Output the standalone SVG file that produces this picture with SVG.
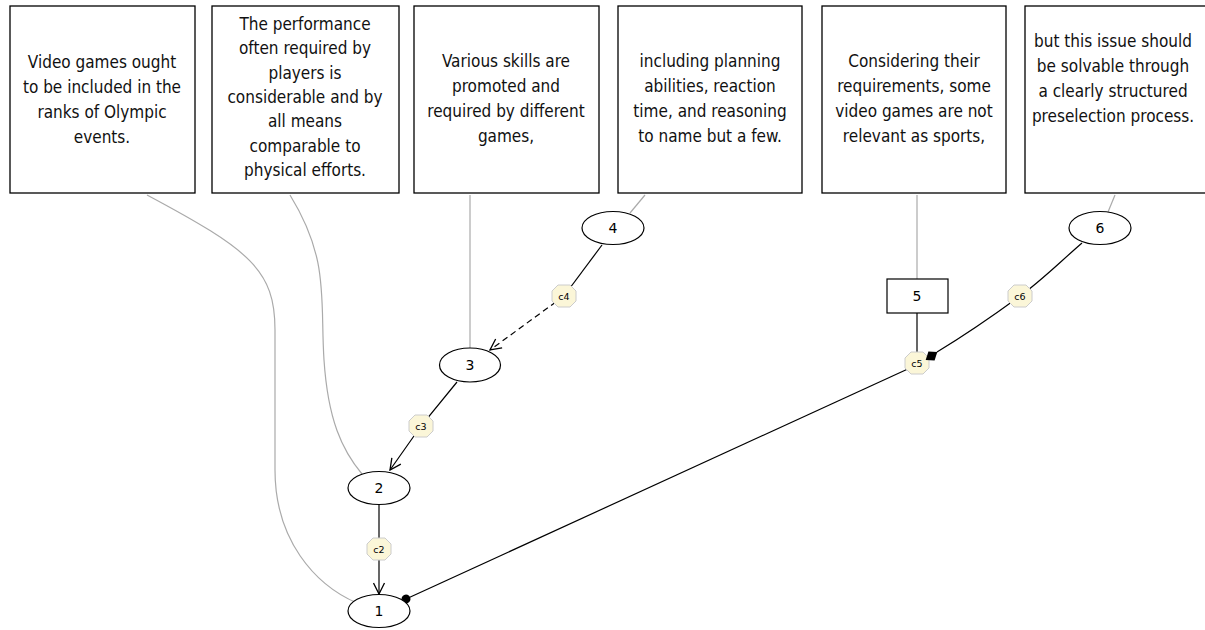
<svg xmlns="http://www.w3.org/2000/svg" width="1205" height="630" viewBox="0 0 1205 630">
<style>
.box{fill:#fff;stroke:#000;stroke-width:1.3}
.bt{font-family:"DejaVu Sans Condensed","DejaVu Sans",sans-serif;font-size:17px;fill:#111;text-anchor:middle}
.nd{fill:#fff;stroke:#000;stroke-width:1.2}
.nt{font-family:"DejaVu Sans",sans-serif;font-size:14px;fill:#000;text-anchor:middle}
.gl{fill:none;stroke:#aaa;stroke-width:1.2}
.ed{fill:none;stroke:#000;stroke-width:1.2}
.oct{fill:#fbf6d8;stroke:#ccc;stroke-width:1}
.ot{font-family:"DejaVu Sans",sans-serif;font-size:9.5px;fill:#000;text-anchor:middle}
</style>
<defs>
<marker id="arr" markerWidth="13" markerHeight="13" refX="12" refY="6.5" orient="auto" markerUnits="userSpaceOnUse">
<path d="M1,1 L12,6.5 L1,12" fill="none" stroke="#000" stroke-width="1.3"/>
</marker>
<marker id="dot" markerWidth="10" markerHeight="10" refX="5" refY="5" orient="auto" markerUnits="userSpaceOnUse">
<circle cx="5" cy="5" r="4.5" fill="#000"/>
</marker>
</defs>

<g id="connectors">
<path class="gl" d="M147,195 C250,250 275,270 275,330 L275,470 C275,540 315,585 357,603"/>
<path class="gl" d="M290,195 C330,260 320,300 324,360 C328,420 342,450 362,474"/>
<path class="gl" d="M470,195 L470,348"/>
<path class="gl" d="M645,195 L630,213"/>
<path class="gl" d="M917,195 L917,279"/>
<path class="gl" d="M1115,195 L1108,212"/>
<path class="ed" d="M602,245 L564,296"/>
<path class="ed" d="M564,296 L490,350" stroke-dasharray="6,4" marker-end="url(#arr)"/>
<path class="ed" d="M457,382 L421,426 L390,470" marker-end="url(#arr)"/>
<path class="ed" d="M379,505 L379,594" marker-end="url(#arr)"/>
<path class="ed" d="M917,313 L917,363"/>
<path class="ed" d="M1082,243 C1060,262 1040,282 1020,296 C990,318 965,335 937,352"/>
<path class="ed" d="M910,368 L406,599" marker-end="url(#dot)"/>
<g id="c4"><polygon class="oct" points="558,285 570,285 576,291 576,301 570,307 558,307 552,301 552,291"/><text class="ot" x="564" y="299.5">c4</text></g>
<g id="c3"><polygon class="oct" points="415,415 427,415 433,421 433,431 427,437 415,437 409,431 409,421"/><text class="ot" x="421" y="429.5">c3</text></g>
<g id="c2"><polygon class="oct" points="373,538 385,538 391,544 391,554 385,560 373,560 367,554 367,544"/><text class="ot" x="379" y="552.5">c2</text></g>
<g id="c5"><polygon class="oct" points="911,352 923,352 929,358 929,368 923,374 911,374 905,368 905,358"/><text class="ot" x="917" y="366.5">c5</text></g>
<g id="c6"><polygon class="oct" points="1014,285 1026,285 1032,291 1032,301 1026,307 1014,307 1008,301 1008,291"/><text class="ot" x="1020" y="299.5">c6</text></g>
<polygon points="925.7,359.9 928.4,351.4 937.3,352.1 934.6,360.6" fill="#000"/>
</g>

<g id="box1"><rect class="box" x="10" y="6" width="185" height="187"/>
<text class="bt"><tspan x="102" y="68">Video games ought</tspan><tspan x="102" y="93">to be included in the</tspan><tspan x="102" y="118">ranks of Olympic</tspan><tspan x="102" y="143">events.</tspan></text></g>
<g id="box2"><rect class="box" x="212" y="6" width="187" height="187"/>
<text class="bt"><tspan x="305" y="30">The performance</tspan><tspan x="305" y="54.3">often required by</tspan><tspan x="305" y="78.6">players is</tspan><tspan x="305" y="103">considerable and by</tspan><tspan x="305" y="127.3">all means</tspan><tspan x="305" y="151.6">comparable to</tspan><tspan x="305" y="176">physical efforts.</tspan></text></g>
<g id="box3"><rect class="box" x="414" y="6" width="185" height="187"/>
<text class="bt"><tspan x="506" y="67">Various skills are</tspan><tspan x="506" y="92">promoted and</tspan><tspan x="506" y="117">required by different</tspan><tspan x="506" y="142">games,</tspan></text></g>
<g id="box4"><rect class="box" x="618" y="6" width="184" height="187"/>
<text class="bt"><tspan x="710" y="67">including planning</tspan><tspan x="710" y="92">abilities, reaction</tspan><tspan x="710" y="117">time, and reasoning</tspan><tspan x="710" y="142">to name but a few.</tspan></text></g>
<g id="box5"><rect class="box" x="822" y="6" width="184" height="187"/>
<text class="bt"><tspan x="914" y="67">Considering their</tspan><tspan x="914" y="92">requirements, some</tspan><tspan x="914" y="117">video games are not</tspan><tspan x="914" y="142">relevant as sports,</tspan></text></g>
<g id="box6"><rect class="box" x="1025" y="6" width="186" height="187"/>
<text class="bt"><tspan x="1113" y="47">but this issue should</tspan><tspan x="1113" y="72">be solvable through</tspan><tspan x="1113" y="97">a clearly structured</tspan><tspan x="1113" y="122">preselection process.</tspan></text></g>

<g id="n1"><ellipse class="nd" cx="379" cy="611" rx="31" ry="16.5"/><text class="nt" x="379" y="616">1</text></g>
<g id="n2"><ellipse class="nd" cx="379" cy="488" rx="31" ry="16.5"/><text class="nt" x="379" y="493">2</text></g>
<g id="n3"><ellipse class="nd" cx="470" cy="365" rx="30.5" ry="17"/><text class="nt" x="470" y="370">3</text></g>
<g id="n4"><ellipse class="nd" cx="613" cy="228" rx="31" ry="16.5"/><text class="nt" x="613" y="233">4</text></g>
<g id="n5"><rect class="nd" x="887" y="279" width="61" height="34"/><text class="nt" x="917" y="301">5</text></g>
<g id="n6"><ellipse class="nd" cx="1100" cy="228" rx="31" ry="16.5"/><text class="nt" x="1100" y="233">6</text></g>
</svg>
